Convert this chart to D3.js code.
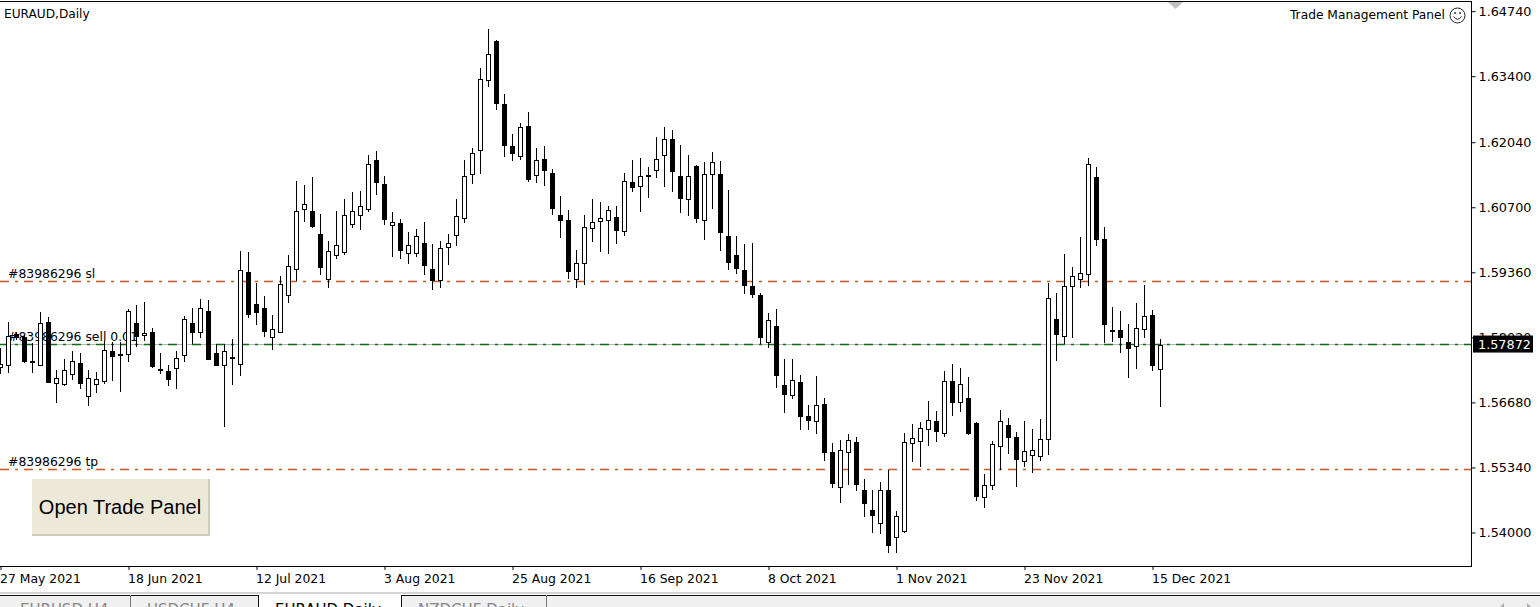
<!DOCTYPE html>
<html>
<head>
<meta charset="utf-8">
<script src="https://cdn.jsdelivr.net/npm/d3@7"></script>
<style>
html, body { margin: 0; padding: 0; background: #fff; overflow: hidden; }
svg { display: block; }
text { font-family: "DejaVu Sans", sans-serif; font-size: 12.4px; fill: #000; }
</style>
</head>
<body>
<svg width="1540" height="607"></svg>
<script>
// EURAUD daily candles, one entry per bar
const opens = [1.57402,1.5745,1.58082,1.5802,1.57525,1.57443,1.58329,1.57072,1.57044,1.57257,
1.57484,1.56804,1.57051,1.57106,1.57731,1.57669,1.57669,1.58308,1.58054,1.58123,
1.5736,1.57319,1.57381,1.57649,1.58308,1.58123,1.58556,1.5769,1.57443,1.57608,
1.57463,1.5936,1.58706,1.58617,1.58019,1.58115,1.58885,1.5942,1.60657,1.60616,
1.60142,1.59214,1.59709,1.59771,1.60348,1.60533,1.60657,1.61667,1.61172,1.60327,
1.60368,1.5975,1.5975,1.59956,1.5942,1.59194,1.59874,1.60121,1.60472,1.61377,
1.61872,1.63315,1.64118,1.6282,1.61954,1.61748,1.62366,1.61357,1.61686,1.61398,
1.60532,1.60429,1.59213,1.59543,1.60264,1.60409,1.60429,1.60491,1.60202,1.61212,
1.6113,1.61357,1.6146,1.61769,1.62099,1.61336,1.60862,1.61542,1.6043,1.61378,
1.61378,1.601,1.59709,1.594,1.5907,1.58884,1.57916,1.58245,1.57029,1.56823,
1.57091,1.56391,1.56288,1.5664,1.55651,1.5493,1.55651,1.55857,1.54868,1.54456,
1.54188,1.54868,1.53899,1.54023,1.55836,1.55878,1.56125,1.5629,1.56042,1.57114,
1.56681,1.56764,1.56249,1.54723,1.54971,1.55775,1.56207,1.5596,1.55463,1.55587,
1.55566,1.55917,1.5839,1.5804,1.5907,1.59214,1.59317,1.61317,1.60039,1.5817,
1.58163,1.57916,1.57834,1.58184,1.58472,1.5738];
const closes = [1.57463,1.58054,1.58013,1.57518,1.57518,1.58308,1.57099,1.57175,1.5734,1.57525,
1.57065,1.57175,1.57154,1.57752,1.57621,1.57649,1.58556,1.58034,1.58102,1.57415,
1.5734,1.57147,1.57587,1.58391,1.58123,1.58618,1.57566,1.57436,1.57731,1.57587,
1.59401,1.58487,1.58548,1.58136,1.58184,1.59111,1.59482,1.60616,1.6076,1.603,
1.59455,1.59791,1.59915,1.60533,1.60616,1.60719,1.61584,1.61214,1.60451,1.60389,
1.59812,1.59915,1.60101,1.59496,1.59187,1.59853,1.59956,1.60513,1.61337,1.6181,
1.63335,1.6385,1.6284,1.61968,1.6181,1.62346,1.61267,1.61666,1.6146,1.6067,
1.60422,1.59371,1.59543,1.60285,1.60388,1.6047,1.60635,1.60223,1.61233,1.61102,
1.61336,1.61336,1.61686,1.62099,1.61439,1.60883,1.61336,1.60463,1.61378,1.61626,
1.60176,1.59558,1.59434,1.59084,1.58898,1.58012,1.58369,1.57229,1.56837,1.57133,
1.56384,1.56301,1.56617,1.55651,1.55005,1.55692,1.55898,1.54985,1.54593,1.54346,
1.54868,1.53727,1.54332,1.55857,1.55939,1.56146,1.5631,1.56084,1.57114,1.56681,
1.57052,1.56042,1.54744,1.54971,1.55816,1.5629,1.5596,1.55507,1.5567,1.5569,
1.55917,1.58823,1.58081,1.5907,1.59276,1.59338,1.61585,1.60039,1.58287,1.58156,
1.58012,1.57785,1.58205,1.58452,1.57435,1.57872];
const highs = [1.57793,1.58329,1.58137,1.58068,1.57896,1.58535,1.58432,1.57347,1.57566,1.57738,
1.5769,1.57347,1.57299,1.57944,1.57917,1.57931,1.58604,1.58679,1.58748,1.58205,
1.57697,1.5745,1.57738,1.58466,1.58618,1.58803,1.58789,1.57876,1.57876,1.57979,
1.59792,1.59772,1.59139,1.58871,1.58472,1.59283,1.59716,1.61241,1.61159,1.61323,
1.60561,1.59998,1.60623,1.60863,1.61014,1.61035,1.61777,1.61859,1.61337,1.60595,
1.60451,1.60183,1.60245,1.60396,1.59936,1.59998,1.60142,1.60863,1.61667,1.61913,
1.63562,1.64373,1.64139,1.63026,1.62202,1.62428,1.62655,1.61913,1.61954,1.6148,
1.60931,1.60635,1.59811,1.60532,1.60862,1.60807,1.60718,1.60718,1.61398,1.61666,
1.61707,1.61521,1.6214,1.62346,1.62284,1.61975,1.61769,1.61563,1.61626,1.61832,
1.61646,1.61048,1.601,1.59935,1.59956,1.58926,1.58513,1.58596,1.57565,1.57565,
1.57236,1.56617,1.57215,1.56764,1.55836,1.55905,1.56022,1.5596,1.55094,1.54868,
1.5504,1.55287,1.54435,1.56042,1.56228,1.56276,1.56709,1.56503,1.5732,1.57465,
1.57382,1.57197,1.56269,1.55197,1.55878,1.56517,1.56352,1.56063,1.56288,1.56123,
1.56329,1.59132,1.58926,1.5973,1.59469,1.6008,1.61708,1.61523,1.60286,1.58637,
1.58555,1.58294,1.5872,1.59091,1.58576,1.57978];
const lows = [1.57264,1.57278,1.57965,1.57484,1.57292,1.57443,1.57072,1.56673,1.57017,1.5714,
1.56948,1.56612,1.56879,1.57058,1.57127,1.569,1.57518,1.57827,1.57951,1.57388,
1.57257,1.57024,1.56962,1.57518,1.57876,1.58013,1.57553,1.57436,1.56179,1.57037,
1.5723,1.58425,1.58273,1.58033,1.5776,1.58101,1.58733,1.59173,1.60403,1.60265,
1.59311,1.59029,1.5964,1.59723,1.60279,1.60238,1.60609,1.60952,1.60341,1.59681,
1.5964,1.5953,1.59681,1.59311,1.59001,1.59029,1.59517,1.59901,1.60382,1.61185,
1.61391,1.63184,1.6271,1.61741,1.61659,1.61666,1.61226,1.61205,1.61144,1.60546,
1.60065,1.59227,1.59041,1.59103,1.59989,1.59783,1.59742,1.59948,1.60113,1.6102,
1.60608,1.60896,1.61308,1.61123,1.6102,1.60587,1.60525,1.60381,1.60032,1.60671,
1.59805,1.59413,1.59331,1.58919,1.58836,1.57874,1.57806,1.56981,1.56466,1.56755,
1.56116,1.56109,1.56033,1.55472,1.54916,1.54607,1.54978,1.54854,1.54318,1.53988,
1.53968,1.53583,1.53583,1.53995,1.55452,1.55349,1.55781,1.55864,1.55967,1.564,
1.56482,1.56008,1.54648,1.5451,1.54875,1.55287,1.55617,1.54936,1.55353,1.55225,
1.55477,1.55601,1.57538,1.57875,1.58012,1.59043,1.5907,1.59908,1.57895,1.57923,
1.57703,1.57188,1.57373,1.57998,1.57332,1.5659];

// axis ticks
const priceTicks = [1.6474, 1.634, 1.6204, 1.607, 1.5936, 1.5802, 1.5668, 1.5534, 1.54];
const dateBars = [0, 16, 32, 48, 64, 80, 96, 112, 128, 144];
const dateLabels = ['27 May 2021', '18 Jun 2021', '12 Jul 2021', '3 Aug 2021', '25 Aug 2021',
    '16 Sep 2021', '8 Oct 2021', '1 Nov 2021', '23 Nov 2021', '15 Dec 2021'];

// trade levels drawn across the chart
const levelPrices = [1.5918, 1.57884, 1.55308];
const levelNames = ['#83986296 sl', '#83986296 sell 0.01', '#83986296 tp'];
const levelColors = ['#cc5a1c', '#0d6b12', '#cc5a1c'];
const bidPrice = 1.57872;
const tabNames = ['EURUSD,H4', 'USDCHF,H4', 'EURAUD,Daily', 'NZDCHF,Daily'];

const chartW = 1471, chartH = 566;

const x = d3.scaleLinear().domain([0, 146]).range([0.5, 1168.5]);
const y = d3.scaleLinear().domain([1.5331, 1.6497]).range([chartH, 0]);

const svg = d3.select('svg');

svg.append('clipPath').attr('id', 'plot').append('rect')
    .attr('width', chartW).attr('height', chartH);
const plot = svg.append('g').attr('clip-path', 'url(#plot)');

// bid line first, the trade levels over it
plot.append('line')
    .attr('x1', 0).attr('x2', chartW)
    .attr('y1', y(bidPrice) - 0.5).attr('y2', y(bidPrice) - 0.5)
    .attr('stroke', '#b4b4b4').attr('shape-rendering', 'crispEdges');

plot.selectAll('.level').data(levelPrices).join('line')
    .attr('class', 'level')
    .attr('x1', 0).attr('x2', chartW)
    .attr('y1', d => Math.round(y(d)) + 0.5).attr('y2', d => Math.round(y(d)) + 0.5)
    .attr('stroke', (d, i) => levelColors[i])
    .attr('stroke-width', 1.5)
    .attr('stroke-dasharray', '9 6 3 6');

plot.selectAll('.levelName').data(levelPrices).join('text')
    .attr('class', 'levelName')
    .attr('x', 8)
    .attr('y', d => y(d) - 3)
    .text((d, i) => levelNames[i]);

// candles
const bars = d3.range(opens.length);
plot.selectAll('.wick').data(bars).join('line')
    .attr('class', 'wick')
    .attr('x1', i => x(i)).attr('x2', i => x(i))
    .attr('y1', i => y(highs[i])).attr('y2', i => y(lows[i]))
    .attr('stroke', '#000').attr('shape-rendering', 'crispEdges');

plot.selectAll('.body').data(bars).join('rect')
    .attr('class', 'body')
    .attr('x', i => x(i) - 2)
    .attr('width', 4)
    .attr('y', i => Math.round(y(Math.max(opens[i], closes[i]))) + 0.5)
    .attr('height', i => Math.max(1, Math.round(Math.abs(y(opens[i]) - y(closes[i])))))
    .attr('fill', i => closes[i] >= opens[i] ? '#fff' : '#000')
    .attr('stroke', '#000')
    .attr('shape-rendering', 'crispEdges');

// chart frame
svg.append('rect')
    .attr('x', -2).attr('y', 1.5)
    .attr('width', chartW + 2.5).attr('height', chartH - 1)
    .attr('fill', 'none').attr('stroke', '#000')
    .attr('shape-rendering', 'crispEdges');

// price axis
const priceAxis = d3.axisRight(y)
    .tickValues(priceTicks)
    .tickSize(4)
    .tickPadding(3)
    .tickFormat(d3.format('.5f'));
const gPrice = svg.append('g')
    .attr('transform', `translate(${chartW + 0.5},0)`)
    .call(priceAxis);
gPrice.select('.domain').remove();
gPrice.selectAll('.tick text').style('font-size', '12.8px').style('font-family', '"DejaVu Sans", sans-serif');

// time axis
const timeAxis = d3.axisBottom(x)
    .tickValues(dateBars)
    .tickSize(4)
    .tickPadding(4)
    .tickFormat((d, i) => dateLabels[i]);
const gTime = svg.append('g')
    .attr('transform', `translate(0,${chartH})`)
    .call(timeAxis);
gTime.select('.domain').remove();
gTime.selectAll('.tick text').attr('text-anchor', 'start').attr('dx', -1)
    .style('font-size', '12.4px').style('font-family', '"DejaVu Sans", sans-serif');

// last price box
svg.append('rect')
    .attr('x', 1473).attr('y', y(bidPrice) - 9)
    .attr('width', 60).attr('height', 17)
    .attr('fill', '#000');
svg.append('text')
    .attr('x', 1478).attr('y', y(bidPrice) + 4.5)
    .style('font-size', '12.8px').style('fill', '#fff')
    .text(d3.format('.5f')(bidPrice));

// titles
svg.append('text').attr('x', 4).attr('y', 18).style('font-size', '12.15px').text('EURAUD,Daily');
svg.append('text').attr('x', 1445).attr('y', 19).attr('text-anchor', 'end').style('font-size', '12.25px').text('Trade Management Panel');

// smiley
const smile = svg.append('g').attr('transform', 'translate(1457.5,15.5)')
    .attr('fill', 'none').attr('stroke', '#222');
smile.append('circle').attr('r', 7.5);
smile.append('path').attr('d', 'M-4 1 Q0 6.5 4 1');
smile.append('circle').attr('cx', -2.5).attr('cy', -2.5).attr('r', 0.6);
smile.append('circle').attr('cx', 2.5).attr('cy', -2.5).attr('r', 0.6);

// shift marker at top of chart
svg.append('path').attr('d', 'M1168 2 L1183 2 L1175.5 9 Z').attr('fill', '#c0c0c0');

// button
svg.append('rect').attr('x', 32).attr('y', 479).attr('width', 178).attr('height', 57).attr('fill', '#cfcbb9');
svg.append('rect').attr('x', 32).attr('y', 479).attr('width', 176).attr('height', 55).attr('fill', '#ece9d8');
svg.append('text')
    .attr('x', 120).attr('y', 514).attr('text-anchor', 'middle')
    .style('font-family', '"Liberation Sans", sans-serif').style('font-size', '20px')
    .text('Open Trade Panel');

// tab strip
svg.append('rect').attr('x', 0).attr('y', 592).attr('width', 1540).attr('height', 2).attr('fill', '#d4d4d4');
svg.append('rect').attr('x', 0).attr('y', 595).attr('width', 1540).attr('height', 12).attr('fill', '#f0f0f0');
svg.append('rect').attr('x', 0).attr('y', 595).attr('width', 1540).attr('height', 1).attr('fill', '#111');
svg.append('rect').attr('x', 259).attr('y', 594).attr('width', 142).attr('height', 13).attr('fill', '#fff');
[130, 258, 401, 546].forEach(sx => {
    svg.append('rect').attr('x', sx).attr('y', 595).attr('width', 1).attr('height', 12)
        .attr('fill', sx === 130 || sx === 546 ? '#777' : '#111');
});
const tabX = [20, 147, 275, 418];
tabNames.forEach((t, i) => {
    svg.append('text').attr('x', tabX[i]).attr('y', 615)
        .style('fill', i === 2 ? '#000' : '#888')
        .style('font-size', '15px')
        .text(t);
});
svg.append('path').attr('d', 'M1500 607 L1504 603 L1504 607 Z').attr('fill', '#aaa');
svg.append('path').attr('d', 'M1527 603 L1531 607 L1527 607 Z').attr('fill', '#aaa');
</script>
</body>
</html>
